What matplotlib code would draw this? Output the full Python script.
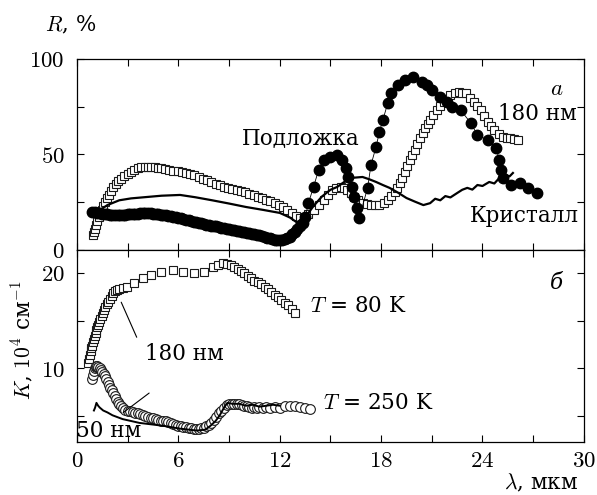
import matplotlib
matplotlib.use("Agg")
import matplotlib.pyplot as plt
from matplotlib.ticker import MultipleLocator, FuncFormatter

plt.rcParams['font.family'] = ['DejaVu Serif']
plt.rcParams['mathtext.fontset'] = 'cm'

# ---------------- top panel (a): reflectance R, % ----------------
# substrate ("Подложка"), filled circles
sub_lam = [0.9, 1.05, 1.2, 1.35, 1.5, 1.65, 1.8, 1.95, 2.1, 2.25, 2.4, 2.55, 2.7,
           2.85, 3.0, 3.15, 3.3, 3.45, 3.6, 3.75, 3.9, 4.05, 4.2, 4.35, 4.5, 4.65,
           4.8, 4.95, 5.1, 5.25, 5.4, 5.55, 5.7, 5.85, 6.0, 6.15, 6.3, 6.45, 6.6,
           6.75, 6.9, 7.05, 7.2, 7.35, 7.5, 7.65, 7.8, 7.95, 8.1, 8.25, 8.4, 8.55,
           8.7, 8.85, 9.0, 9.15, 9.3, 9.45, 9.6, 9.75, 9.9, 10.05, 10.2, 10.35,
           10.5, 10.65, 10.8, 10.95, 11.1, 11.25, 11.4, 11.55, 11.7, 11.85, 12.0,
           12.15, 12.3, 12.45, 12.6, 12.75, 12.9, 13.05, 13.2, 13.35,
           13.5, 13.7, 14.0, 14.3, 14.6, 15.0, 15.4, 15.7, 15.9, 16.05, 16.25,
           16.4, 16.55, 16.7, 17.2, 17.4, 17.7, 17.9, 18.1, 18.4, 18.6, 19.0,
           19.4, 19.9, 20.4, 20.7, 21.0, 21.5, 21.9, 22.2, 22.7, 23.3, 23.7, 24.3,
           24.8, 25.0, 25.1, 25.2, 25.7, 26.2, 26.7, 27.2]
sub_R = [20.0, 19.8, 19.5, 19.2, 19.0, 18.8, 18.6, 18.4, 18.3, 18.3, 18.3, 18.4,
         18.5, 18.5, 18.6, 18.7, 18.8, 18.9, 19.0, 19.1, 19.2, 19.3, 19.3, 19.2,
         19.0, 18.8, 18.6, 18.5, 18.3, 18.2, 18.0, 17.7, 17.4, 17.1, 16.8, 16.5,
         16.2, 15.8, 15.5, 15.1, 14.8, 14.5, 14.2, 13.9, 13.6, 13.3, 13.0, 12.8,
         12.6, 12.3, 12.0, 11.6, 11.3, 11.0, 10.8, 10.5, 10.3, 10.0, 9.8, 9.5,
         9.3, 9.0, 8.8, 8.5, 8.2, 7.9, 7.6, 7.2, 6.9, 6.5, 6.2, 5.8, 5.4, 5.1,
         5.0, 5.2, 5.5, 6.2, 7.0, 8.2, 9.5, 11.0, 12.5, 14.0,
         17.0, 24.6, 33.0, 41.9, 47.0, 48.7, 49.7, 47.0, 43.0, 38.2, 33.0, 27.7,
         22.0, 16.8, 32.5, 44.5, 54.0, 61.8, 68.0, 77.0, 82.0, 86.4, 89.0, 90.6,
         88.0, 86.4, 83.8, 80.0, 77.5, 74.9, 73.3, 66.5, 60.2, 57.6, 53.4, 47.0,
         42.0, 37.7, 34.0, 35.0, 32.5, 29.8]

# 180 nm film, open squares
film_lam = [0.95, 1.0, 1.07, 1.13, 1.2, 1.28, 1.36, 1.45, 1.55, 1.65, 1.75, 1.87,
            2.0, 2.15, 2.3, 2.45, 2.6, 2.8, 3.0, 3.2, 3.4, 3.6, 3.8, 4.0, 4.2, 4.4,
            4.6, 4.8, 5.0, 5.2, 5.45, 5.7, 5.95, 6.2, 6.45, 6.7, 6.95, 7.2, 7.45,
            7.7, 7.95, 8.2, 8.45, 8.7, 8.95, 9.2, 9.45, 9.7, 9.95, 10.2, 10.45,
            10.7, 10.95, 11.2, 11.45, 11.7, 11.95, 12.2, 12.45, 12.7, 12.95, 13.2,
            13.45, 13.7, 14.0, 14.3, 14.6, 14.85, 15.1, 15.35, 15.6, 15.8, 16.0,
            16.2, 16.4, 16.65, 16.9, 17.15, 17.4, 17.65, 17.9, 18.15, 18.4, 18.6,
            18.8, 18.95, 19.1, 19.25, 19.4, 19.55, 19.7, 19.85, 20.0, 20.15, 20.3,
            20.45, 20.6, 20.75, 20.9, 21.1, 21.3, 21.5, 21.7, 21.9, 22.1, 22.35,
            22.6, 22.8, 23.0, 23.25, 23.5, 23.7, 23.9, 24.1, 24.3, 24.5, 24.7,
            24.95, 25.2, 25.45, 25.65, 25.85, 26.1]
film_R = [7.9, 9.5, 11.0, 13.0, 15.0, 17.0, 19.0, 21.0, 23.0, 25.0, 27.0, 29.0,
          31.0, 33.0, 34.5, 36.0, 37.2, 38.5, 40.0, 41.0, 42.0, 42.8, 43.2, 43.5,
          43.6, 43.5, 43.3, 43.0, 42.7, 42.3, 41.9, 41.5, 41.2, 40.8, 40.5, 40.0,
          39.0, 38.2, 37.4, 36.6, 35.6, 34.6, 33.8, 33.0, 32.4, 32.0, 31.6, 31.0,
          30.2, 29.4, 28.6, 27.9, 27.2, 26.4, 25.6, 24.8, 23.6, 22.3, 21.0, 19.5,
          18.0, 16.5, 17.3, 19.0, 21.0, 23.5, 26.0, 28.8, 31.4, 32.2, 33.0, 32.5,
          31.4, 29.6, 27.7, 26.0, 24.6, 24.0, 23.5, 23.5, 23.5, 24.5, 26.0, 28.0,
          30.4, 32.5, 35.0, 37.9, 40.8, 43.9, 47.0, 49.7, 52.4, 55.5, 58.6, 61.2,
          63.9, 66.0, 68.0, 70.7, 73.3, 75.4, 77.5, 79.2, 81.0, 82.0, 82.7, 82.4,
          82.0, 79.7, 77.5, 75.4, 73.3, 70.0, 67.0, 64.9, 62.8, 60.9, 59.0, 58.8,
          58.6, 58.1, 57.6]

# bulk crystal ("Кристалл"), solid line
cry_lam = [1.2, 1.8, 2.5, 3.2, 4.1, 5.0, 6.1, 7.0, 8.0, 9.0, 10.0, 11.0, 12.0,
           12.6, 13.0, 13.5, 14.0, 14.5, 15.0, 15.4, 15.8, 16.2, 16.9, 17.3, 17.7,
           18.1, 18.5, 19.0, 19.5, 20.0, 20.5, 20.9, 21.2, 21.5, 21.8, 22.1, 22.5,
           22.8, 23.1, 23.4, 23.7, 24.0, 24.4, 24.7, 25.0, 25.2, 25.4, 25.6, 25.8]
cry_R = [20.0, 23.5, 26.0, 27.0, 27.7, 28.4, 28.8, 27.6, 26.0, 24.3, 22.5, 21.0,
         19.4, 17.0, 14.5, 17.0, 23.0, 28.0, 31.5, 33.0, 35.5, 37.7, 38.2, 37.0,
         35.6, 34.0, 32.5, 30.0, 27.2, 25.3, 23.5, 24.5, 26.8, 26.0, 28.2, 27.5,
         29.8, 31.5, 32.5, 31.6, 34.0, 33.5, 35.6, 34.8, 37.7, 36.5, 39.3, 38.5,
         40.3]

# ---------------- bottom panel (б): absorption K, 10^4 cm^-1 ----------------
k80_lam = [0.65, 0.7, 0.75, 0.8, 0.85, 0.9, 0.95, 1.0, 1.05, 1.1, 1.15, 1.2, 1.25,
           1.32, 1.38, 1.45, 1.52, 1.6, 1.68, 1.76, 1.85, 1.95, 2.05, 2.15, 2.25,
           2.35, 2.5, 2.7, 2.95, 3.4, 3.9, 4.4, 5.0, 5.7, 6.3, 6.9, 7.5, 8.05,
           8.35, 8.65, 8.9, 9.1, 9.3, 9.5, 9.7, 9.9, 10.1, 10.3, 10.5, 10.7, 10.9,
           11.1, 11.3, 11.5, 11.7, 11.9, 12.1, 12.3, 12.5, 12.7, 12.9]
k80_K = [10.6, 11.0, 11.4, 11.8, 12.1, 12.4, 12.8, 13.1, 13.4, 13.7, 14.0, 14.3,
         14.6, 14.9, 15.2, 15.5, 15.8, 16.1, 16.4, 16.7, 17.0, 17.3, 17.6, 17.9,
         18.1, 18.2, 18.3, 18.4, 18.5, 18.9, 19.5, 19.8, 20.1, 20.3, 20.1, 20.0,
         20.1, 20.6, 20.8, 21.0, 20.9, 20.8, 20.6, 20.4, 20.2, 20.0, 19.7, 19.5,
         19.2, 19.0, 18.8, 18.5, 18.3, 18.0, 17.7, 17.5, 17.2, 16.9, 16.6, 16.2,
         15.8]

k250_lam = [0.9, 0.95, 1.0, 1.05, 1.1, 1.15, 1.2, 1.27, 1.35, 1.42, 1.5, 1.58,
            1.66, 1.74, 1.82, 1.9, 1.98, 2.06, 2.14, 2.22, 2.3, 2.4, 2.5, 2.6,
            2.72, 2.85, 3.0, 3.15, 3.3, 3.45, 3.6, 3.75, 3.9, 4.05, 4.2, 4.35, 4.5,
            4.65, 4.8, 4.95, 5.1, 5.25, 5.4, 5.55, 5.7, 5.85, 6.0, 6.15, 6.3, 6.45,
            6.6, 6.75, 6.9, 7.05, 7.2, 7.35, 7.5, 7.65, 7.8, 7.95, 8.1, 8.25, 8.4,
            8.55, 8.7, 8.85, 9.0, 9.15, 9.3, 9.45, 9.6, 9.75, 9.9, 10.05, 10.2,
            10.35, 10.5, 10.65, 10.8, 11.0, 11.2, 11.4, 11.7, 12.0, 12.3, 12.6,
            12.9, 13.2, 13.5, 13.8]
k250_K = [8.9, 9.3, 9.7, 10.0, 10.2, 10.3, 10.3, 10.2, 10.0, 9.8, 9.6, 9.4, 9.2,
          8.9, 8.6, 8.3, 8.0, 7.7, 7.4, 7.1, 6.8, 6.5, 6.3, 6.1, 5.9, 5.7, 5.6,
          5.5, 5.4, 5.35, 5.3, 5.2, 5.1, 5.0, 4.9, 4.85, 4.8, 4.7, 4.6, 4.55,
          4.5, 4.45, 4.4, 4.3, 4.2, 4.1, 4.0, 3.95, 3.9, 3.85, 3.8, 3.75, 3.7,
          3.7, 3.7, 3.75, 3.8, 3.95, 4.1, 4.3, 4.6, 4.9, 5.3, 5.6, 5.9, 6.2, 6.3,
          6.3, 6.3, 6.3, 6.3, 6.2, 6.1, 6.1, 6.0, 5.9, 6.0, 5.9, 6.0, 5.9, 6.0,
          5.9, 6.0, 5.9, 6.1, 6.1, 6.1, 6.0, 5.9, 5.8]

k50_lam = [1.0, 1.07, 1.15, 1.25, 1.35, 1.55, 1.8, 2.1, 2.7, 3.7, 5.1, 6.1, 7.1,
           7.6, 7.9, 8.2, 8.45, 8.7, 8.9, 9.2, 9.6, 10.0, 10.4, 10.8, 11.2, 11.6,
           12.0]
k50_K = [5.6, 5.9, 6.4, 6.1, 5.9, 5.6, 5.4, 5.1, 4.7, 4.3, 4.0, 3.7, 3.5, 3.6,
         4.0, 4.5, 5.1, 5.9, 6.4, 6.3, 6.3, 6.1, 6.2, 6.0, 6.1, 6.2, 6.1]

# ---------------- figure ----------------
fig = plt.figure(figsize=(5.97, 4.95), dpi=100)
ax1 = fig.add_axes([0.129, 0.495, 0.849, 0.386])
ax2 = fig.add_axes([0.129, 0.107, 0.849, 0.388])

FS = 15.5
TFS = 16.5

# top
ax1.plot(sub_lam, sub_R, color='black', lw=0.6, marker='o', ms=7.5,
         mfc='black', mec='black', zorder=3)
ax1.plot(film_lam, film_R, ls='none', marker='s', ms=6.3, mfc='white',
         mec='#1a1a1a', mew=0.8, zorder=2)
ax1.plot(cry_lam, cry_R, color='black', lw=1.6, zorder=4)

# bottom
ax2.plot(k80_lam, k80_K, ls='none', marker='s', ms=6.3, mfc='white',
         mec='#1a1a1a', mew=0.8, zorder=2)
ax2.plot(k250_lam, k250_K, ls='none', marker='o', ms=7, mfc='white',
         mec='#1a1a1a', mew=0.8, zorder=2)
ax2.plot(k50_lam, k50_K, color='black', lw=1.4, zorder=3)

for ax in (ax1, ax2):
    ax.set_xlim(0, 30)
    ax.xaxis.set_major_locator(MultipleLocator(3))
    ax.tick_params(direction='in', length=5, width=0.8, top=True, right=True,
                   labelsize=TFS)
    ax.tick_params(axis='y', pad=9)
    for s in ax.spines.values():
        s.set_linewidth(0.9)

ax1.set_ylim(0, 100)
ax1.yaxis.set_major_locator(MultipleLocator(25))
ax1.yaxis.set_major_formatter(FuncFormatter(
    lambda v, p: f'${v:g}$' if v % 50 == 0 else ''))
ax1.tick_params(labelbottom=False)

ax2.set_ylim(2.3, 22.4)
ax2.yaxis.set_major_locator(MultipleLocator(5))
ax2.yaxis.set_major_formatter(FuncFormatter(
    lambda v, p: f'${v:g}$' if abs(v % 10) < 1e-6 and v > 5 else ''))
ax2.xaxis.set_major_formatter(FuncFormatter(
    lambda v, p: f'${v:g}$' if v % 6 == 0 else ''))
ax2.tick_params(axis='x', pad=6)

# axis labels
fig.text(0.075, 0.949, r'$R$, %', fontsize=FS, ha='left', va='center')
fig.text(0.037, 0.313, r'$K$, $10^4$ см$^{-1}$', fontsize=FS, rotation=90,
         ha='center', va='center')
fig.text(0.968, 0.024, r'$\lambda$, мкм', fontsize=FS, ha='right', va='center')

# annotations
ax1.text(0.947, 0.845, r'$a$', transform=ax1.transAxes, fontsize=FS + 1,
         ha='center', va='center')
ax1.text(0.985, 0.71, '180 нм', transform=ax1.transAxes, fontsize=FS,
         ha='right', va='center')
ax1.text(0.325, 0.585, 'Подложка', transform=ax1.transAxes, fontsize=FS,
         ha='left', va='center')
ax1.text(0.99, 0.18, 'Кристалл', transform=ax1.transAxes, fontsize=FS,
         ha='right', va='center')

ax2.text(0.947, 0.83, 'б', transform=ax2.transAxes, fontsize=FS, style='italic',
         ha='center', va='center')
ax2.text(0.46, 0.71, r'$T$ = 80 K', transform=ax2.transAxes, fontsize=FS,
         ha='left', va='center')
ax2.text(0.485, 0.205, r'$T$ = 250 K', transform=ax2.transAxes, fontsize=FS,
         ha='left', va='center')
ax2.text(0.135, 0.46, '180 нм', transform=ax2.transAxes, fontsize=FS,
         ha='left', va='center')
ax2.text(-0.002, 0.06, '50 нм', transform=ax2.transAxes, fontsize=FS,
         ha='left', va='center')
ax2.annotate('', xy=(2.55, 17.2), xytext=(3.6, 13.0),
             arrowprops=dict(arrowstyle='-', lw=0.8, color='black'))
ax2.annotate('', xy=(2.6, 5.2), xytext=(4.4, 7.6),
             arrowprops=dict(arrowstyle='-', lw=0.8, color='black'))

fig.savefig('out.png', dpi=100)
